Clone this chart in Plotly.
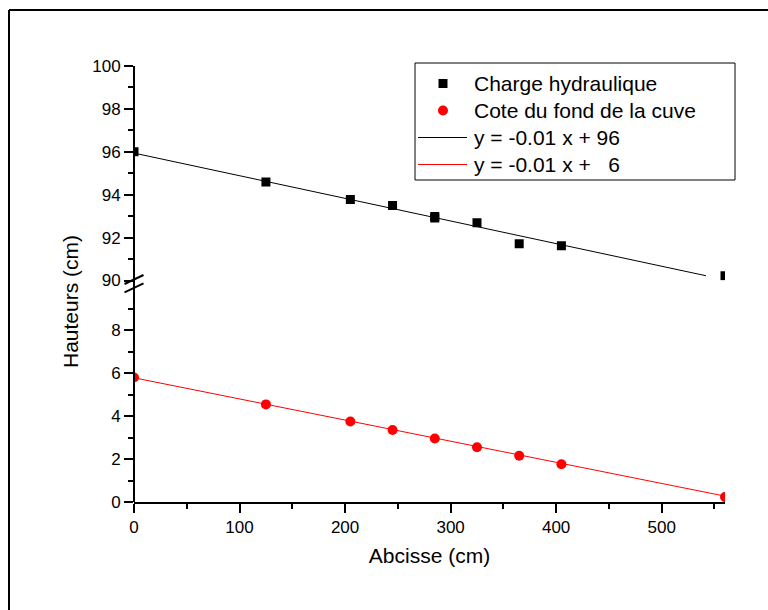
import plotly.graph_objects as go

# ---------------- data ----------------
x_charge = [0, 125, 205, 245, 285, 285, 325, 365, 405, 560]
y_charge = [96.0, 94.59, 93.78, 93.50, 92.98, 92.91, 92.69, 91.71, 91.62, 90.22]

x_fond = [0, 125, 205, 245, 285, 325, 365, 405, 560]
y_fond = [5.80, 4.55, 3.75, 3.36, 2.96, 2.55, 2.16, 1.76, 0.23]

# linear fits (slope, intercept) and their drawn x-extent
fit_charge_slope, fit_charge_icpt = -0.01055, 95.94
fit_charge_x = [0, 542]
fit_fond_slope, fit_fond_icpt = -0.00985, 5.79
fit_fond_x = [0, 560]

name_charge = "Charge hydraulique"
name_fond = "Cote du fond de la cuve"
name_fit_charge = "y = -0.01 x + 96"
name_fit_fond = "y = -0.01 x +\u00a0\u00a0\u00a06"

x_title = "Abcisse (cm)"
y_title = "Hauteurs (cm)"

BLACK = "black"
RED = "#ff0000"

# ---------------- layout geometry ----------------
W, H = 768, 610
ML, MR, MT, MB = 134, 43, 66, 108
PW, PH = W - ML - MR, H - MT - MB
PX_PER_UNIT = 21.45
upper_dom = [1 - 10 * PX_PER_UNIT / PH, 1]
lower_top = 9.85
lower_dom = [0, lower_top * PX_PER_UNIT / PH]


def px_x(px):
    return (px - ML) / PW


def px_y(py):
    return (H - MB - py) / PH


FONT = "Arial, 'Liberation Sans', sans-serif"

fig = go.Figure()

fig.add_trace(go.Scatter(
    x=x_charge, y=y_charge, mode="markers", name=name_charge,
    marker=dict(symbol="square", size=9, color=BLACK),
    xaxis="x", yaxis="y2"))
fig.add_trace(go.Scatter(
    x=x_fond, y=y_fond, mode="markers", name=name_fond,
    marker=dict(symbol="circle", size=10, color=RED),
    xaxis="x", yaxis="y"))
fig.add_trace(go.Scatter(
    x=fit_charge_x, y=[fit_charge_icpt + fit_charge_slope * v for v in fit_charge_x],
    mode="lines", name=name_fit_charge, line=dict(color=BLACK, width=1),
    xaxis="x", yaxis="y2"))
fig.add_trace(go.Scatter(
    x=fit_fond_x, y=[fit_fond_icpt + fit_fond_slope * v for v in fit_fond_x],
    mode="lines", name=name_fit_fond, line=dict(color=RED, width=1),
    xaxis="x", yaxis="y"))

axis_common = dict(
    showline=True, linecolor="black", linewidth=2, mirror=False,
    ticks="outside", ticklen=9, tickwidth=2, tickcolor="black",
    showgrid=False, zeroline=False,
    tickfont=dict(family=FONT, size=17, color="black"),
)
minor_common = dict(ticks="outside", ticklen=5, tickwidth=2, tickcolor="black")

fig.update_layout(
    width=W, height=H,
    margin=dict(l=ML, r=MR, t=MT, b=MB, pad=0),
    paper_bgcolor="white", plot_bgcolor="white",
    font=dict(family=FONT, color="black"),
    showlegend=False,
    xaxis=dict(
        range=[0, 560], dtick=100, tick0=0,
        minor=dict(dtick=50, **minor_common),
        title=dict(text=x_title, font=dict(family=FONT, size=21, color="black"), standoff=12),
        anchor="y",
        **axis_common),
    yaxis=dict(
        domain=lower_dom, range=[0, lower_top], dtick=2, tick0=0,
        minor=dict(dtick=1, **minor_common),
        anchor="x",
        **{**axis_common, "showline": False}),
    yaxis2=dict(
        domain=upper_dom, range=[90, 100], dtick=2, tick0=90,
        minor=dict(dtick=1, **minor_common),
        anchor="x",
        **{**axis_common, "showline": False}),
)

shapes = []
# continuous left spine across the break
shapes.append(dict(type="line", xref="paper", yref="paper", x0=0, x1=0, y0=0, y1=1,
                   line=dict(color="black", width=2), layer="above"))
# break marks
brk_y = px_y(283.5)
for dy in (4.0, -4.3):
    shapes.append(dict(type="line", xref="paper", yref="paper",
                       xsizemode="pixel", xanchor=0, ysizemode="pixel", yanchor=brk_y,
                       x0=-9.5, x1=9.5, y0=dy - 4.5, y1=dy + 4.5,
                       line=dict(color="black", width=2), layer="above"))
# outer frame (left and top edges visible)
shapes.append(dict(type="line", xref="paper", yref="paper",
                   x0=px_x(9), x1=px_x(9), y0=px_y(10), y1=px_y(700),
                   line=dict(color="black", width=2), layer="above"))
shapes.append(dict(type="line", xref="paper", yref="paper",
                   x0=px_x(9), x1=px_x(800), y0=px_y(10), y1=px_y(10),
                   line=dict(color="black", width=2), layer="above"))

# ---------------- legend (box, symbols, texts) ----------------
LEG_L, LEG_R, LEG_T, LEG_B = 415, 735, 63, 180
shapes.append(dict(type="rect", xref="paper", yref="paper",
                   x0=px_x(LEG_L), x1=px_x(LEG_R), y0=px_y(LEG_T), y1=px_y(LEG_B),
                   line=dict(color="black", width=1), fillcolor="white", layer="above"))
rows = [83.5, 110.5, 137.5, 164.5]
sym_x = 443
legend_items = [
    (name_charge, "square", BLACK),
    (name_fond, "circle", RED),
    (name_fit_charge, "line", BLACK),
    (name_fit_fond, "line", RED),
]
for (label, kind, col), ry in zip(legend_items, rows):
    if kind == "square":
        shapes.append(dict(type="rect", xref="paper", yref="paper",
                           xsizemode="pixel", xanchor=px_x(sym_x),
                           ysizemode="pixel", yanchor=px_y(ry),
                           x0=-4.5, x1=4.5, y0=-4.5, y1=4.5,
                           line=dict(width=0), fillcolor=col, layer="above"))
    elif kind == "circle":
        shapes.append(dict(type="circle", xref="paper", yref="paper",
                           xsizemode="pixel", xanchor=px_x(sym_x),
                           ysizemode="pixel", yanchor=px_y(ry),
                           x0=-5, x1=5, y0=-5, y1=5,
                           line=dict(width=0), fillcolor=col, layer="above"))
    else:
        shapes.append(dict(type="line", xref="paper", yref="paper",
                           x0=px_x(418), x1=px_x(467), y0=px_y(ry), y1=px_y(ry),
                           line=dict(color=col, width=1), layer="above"))
    fig.add_annotation(
        text=label, showarrow=False, xref="paper", yref="paper",
        x=px_x(472), y=px_y(ry), xanchor="left", yanchor="middle",
        font=dict(family=FONT, size=21, color="black"))

fig.update_layout(shapes=shapes)

fig.add_annotation(
    text=y_title, textangle=-90, showarrow=False,
    xref="paper", yref="paper", x=px_x(70), y=px_y(302),
    xanchor="center", yanchor="middle",
    font=dict(family=FONT, size=21, color="black"))

fig.write_html("out.html")
